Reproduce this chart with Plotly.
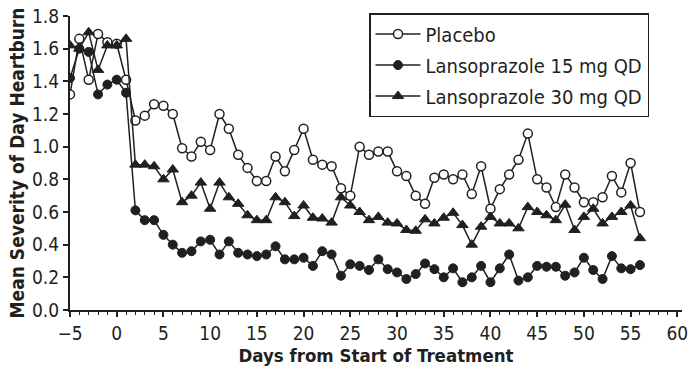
import plotly.graph_objects as go

# ---- data ----
days = list(range(-5, 57))

placebo = [1.32, 1.66, 1.41, 1.69, 1.64, 1.63, 1.41,
           1.16, 1.19, 1.26, 1.25, 1.20, 0.99, 0.94, 1.03, 0.98,
           1.20, 1.11, 0.95, 0.87, 0.79, 0.79, 0.94, 0.85, 0.98, 1.11,
           0.92, 0.89, 0.88, 0.745, 0.70, 1.00, 0.95, 0.97, 0.97, 0.85,
           0.82, 0.70, 0.65, 0.81, 0.83, 0.80, 0.83, 0.71, 0.88, 0.62,
           0.74, 0.83, 0.92, 1.08, 0.80, 0.75, 0.63, 0.83, 0.75, 0.66,
           0.66, 0.69, 0.82, 0.72, 0.90, 0.60]

lanso15 = [1.42, 1.60, 1.58, 1.32, 1.38, 1.41, 1.33,
           0.61, 0.55, 0.55, 0.46, 0.40, 0.35, 0.36, 0.42, 0.43,
           0.34, 0.42, 0.35, 0.34, 0.33, 0.34, 0.39, 0.31, 0.31, 0.32,
           0.27, 0.36, 0.34, 0.21, 0.28, 0.27, 0.245, 0.31, 0.25, 0.23,
           0.19, 0.22, 0.285, 0.25, 0.20, 0.255, 0.17, 0.20, 0.27, 0.17,
           0.255, 0.34, 0.18, 0.20, 0.27, 0.265, 0.265, 0.21, 0.23, 0.32,
           0.245, 0.19, 0.33, 0.255, 0.25, 0.275]

lanso30 = [1.62, 1.60, 1.70, 1.47, 1.62, 1.62, 1.66,
           0.89, 0.89, 0.88, 0.80, 0.86, 0.66, 0.70, 0.78, 0.62,
           0.78, 0.69, 0.65, 0.58, 0.55, 0.55, 0.69, 0.66, 0.575, 0.64,
           0.565, 0.56, 0.535, 0.69, 0.64, 0.60, 0.55, 0.57, 0.535, 0.53,
           0.49, 0.485, 0.555, 0.53, 0.565, 0.595, 0.52, 0.40, 0.51, 0.57,
           0.53, 0.53, 0.50, 0.63, 0.60, 0.58, 0.55, 0.645, 0.49, 0.57,
           0.62, 0.53, 0.57, 0.60, 0.64, 0.44]

series_names = ["Placebo", "Lansoprazole 15 mg QD", "Lansoprazole 30 mg QD"]

x_title = "Days from Start of Treatment"
y_title = "Mean Severity of Day Heartburn"

# ---- styling ----
FONT = "DejaVu Sans Condensed, Liberation Sans Narrow, Arial Narrow, sans-serif"
INK = "#231f20"

markers = [
    dict(symbol="circle", size=9, color="white", line=dict(color=INK, width=1.5)),
    dict(symbol="circle", size=9, color=INK, line=dict(color=INK, width=1)),
    dict(symbol="triangle-up", size=10, color=INK, line=dict(color=INK, width=1)),
]

fig = go.Figure()
for name, vals, mk in zip(series_names, [placebo, lanso15, lanso30], markers):
    fig.add_trace(go.Scatter(
        x=days, y=vals, mode="lines+markers", name=name,
        line=dict(color=INK, width=1.5), marker=mk, legendgroup=name,
    ))

fig.update_layout(
    width=692, height=374,
    margin=dict(l=70, r=10, t=16, b=64, autoexpand=False),
    paper_bgcolor="white", plot_bgcolor="white",
    font=dict(family=FONT, color=INK),
    showlegend=True,
    legend=dict(
        x=0.4886, y=1.010, xanchor="left", yanchor="top",
        bordercolor=INK, borderwidth=1.5, bgcolor="white",
        font=dict(family=FONT, size=20, color=INK),
        tracegroupgap=2, itemwidth=45,
    ),
)

fig.update_xaxes(
    range=[-5, 60.5], tickmode="linear", tick0=-5, dtick=5,
    showline=True, linecolor=INK, linewidth=2, automargin=False,
    ticklabeloverflow="allow",
    ticks="outside", ticklen=5, tickwidth=1.5, tickcolor=INK,
    minor=dict(dtick=1, ticks="outside", ticklen=3, tickcolor=INK, tickwidth=1),
    showgrid=False, zeroline=False,
    tickfont=dict(family=FONT, size=19, color=INK),
    title=dict(text=x_title, font=dict(family=FONT, size=18.5, color=INK, weight="bold"), standoff=6),
)
fig.update_yaxes(
    range=[0, 1.8], tickmode="linear", tick0=0, dtick=0.2, tickformat=".1f",
    showline=True, linecolor=INK, linewidth=2, automargin=False,
    ticklabeloverflow="allow",
    ticks="outside", ticklen=5, tickwidth=1.5, tickcolor=INK,
    showgrid=False, zeroline=False,
    tickfont=dict(family=FONT, size=19, color=INK),
    title=dict(text=y_title, font=dict(family=FONT, size=19, color=INK, weight="bold"), standoff=2),
)

# remove the browser's default 8 px body margin so the figure fills the window
fig.write_html(
    "out.html",
    config={"displayModeBar": False},
    post_script="document.body.style.margin='0px';",
)
